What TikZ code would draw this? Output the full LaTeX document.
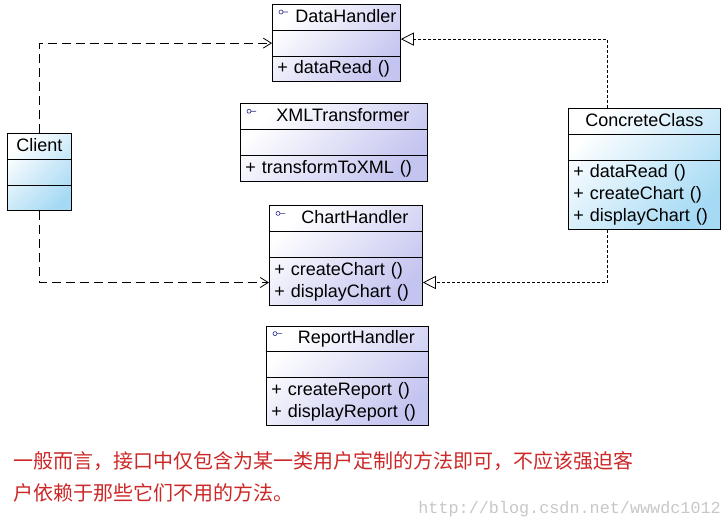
\documentclass[tikz,border=0pt]{standalone}
\usepackage{fontspec}
\setmainfont{Liberation Sans}
\newfontfamily\cjkfont{Noto Sans CJK SC}
\newfontfamily\markfont{Liberation Mono}
\usetikzlibrary{arrows.meta, positioning, shapes.multipart}

\definecolor{ifaceblue}{RGB}{196,196,240}
\definecolor{classcyan}{RGB}{166,218,244}
\definecolor{notered}{RGB}{204,40,40}
\definecolor{iconblue}{RGB}{40,40,140}
\newcommand{\rowstrut}{\rule[-5.5pt]{0pt}{21pt}}

\begin{document}
\begin{tikzpicture}[x=1pt, y=-1pt, font=\fontsize{18}{22}\selectfont]
\tikzset{% class boxes and connectors
  umlclass/.style={rectangle split, rectangle split parts=3, draw, line width=0.8pt,
    inner xsep=5pt, inner ysep=2pt, align=left,
    top color=white, bottom color=#1, shading angle=45},
  iface/.style={umlclass=ifaceblue},
  plainclass/.style={umlclass=classcyan},
  icon/.style={draw=iconblue, line width=0.6pt},
  uses/.style={draw, line width=0.8pt, dash pattern=on 9pt off 5pt,
    -{Straight Barb[length=8pt, width=10pt]}},
  realizes/.style={draw, line width=0.8pt, dash pattern=on 3pt off 2pt,
    -{Triangle[open, length=13pt, width=13pt, fill=white]}},
  note/.style={text=notered, font=\cjkfont\fontsize{20}{32}\selectfont, align=left, inner sep=0pt},
  watermark/.style={text=black!22, font=\markfont\fontsize{16.8}{20}\selectfont, inner sep=0pt},
}
\useasboundingbox (0,0) rectangle (726,527);

% interfaces
\node[iface, text width=118pt, anchor=north west] (data) at (272,4)
  {\centering\hspace*{18pt}DataHandler\rowstrut\par
   \nodepart{two}\rowstrut
   \nodepart{three}+ dataRead ()\rowstrut};
\node[iface, text width=177pt, below=21pt of data, xshift=-2.5pt] (xml)
  {\centering\hspace*{18pt}XMLTransformer\rowstrut\par
   \nodepart{two}\rowstrut
   \nodepart{three}+ transformToXML ()\rowstrut};
\node[iface, text width=143pt, below=24pt of xml, xshift=12pt] (chart)
  {\centering\hspace*{18pt}ChartHandler\rowstrut\par
   \nodepart{two}\rowstrut
   \nodepart{three}+ createChart ()\rowstrut\\+ displayChart ()\rowstrut};
\node[iface, text width=152pt, below=20pt of chart, xshift=1.5pt] (report)
  {\centering\hspace*{18pt}ReportHandler\rowstrut\par
   \nodepart{two}\rowstrut
   \nodepart{three}+ createReport ()\rowstrut\\+ displayReport ()\rowstrut};

\foreach \n in {data, xml, chart, report}
  \draw[icon] ([xshift=9pt, yshift=-8pt]\n.north west) circle (2pt) ++(2pt,0) -- ++(5pt,0);

% classes
\node[plainclass, text width=54pt, anchor=north west] (client) at (7,133)
  {\centering Client\rowstrut\par
   \nodepart{two}\rowstrut
   \nodepart{three}\rowstrut};
\node[plainclass, text width=142pt, anchor=north west] (concrete) at (568,108)
  {\centering ConcreteClass\rowstrut\par
   \nodepart{two}\rowstrut
   \nodepart{three}+ dataRead ()\rowstrut\\+ createChart ()\rowstrut\\+ displayChart ()\rowstrut};

% dependencies and realizations
\draw[uses] (client.north) |- (data.west);
\draw[uses] (client.south) |- ([yshift=-27pt]chart.west);
\draw[realizes] ([xshift=-37pt]concrete.north) |- ([yshift=4pt]data.east);
\draw[realizes] ([xshift=-37pt]concrete.south) |- ([yshift=-27pt]chart.east);

% remark
\node[note, anchor=north west] (remark) at (13,451)
  {一般而言，接口中仅包含为某一类用户定制的方法即可，不应该强迫客\\户依赖于那些它们不用的方法。};
\node[watermark, anchor=east] (mark) at (721,509) {http://blog.csdn.net/wwwdc1012};
\end{tikzpicture}
\end{document}
